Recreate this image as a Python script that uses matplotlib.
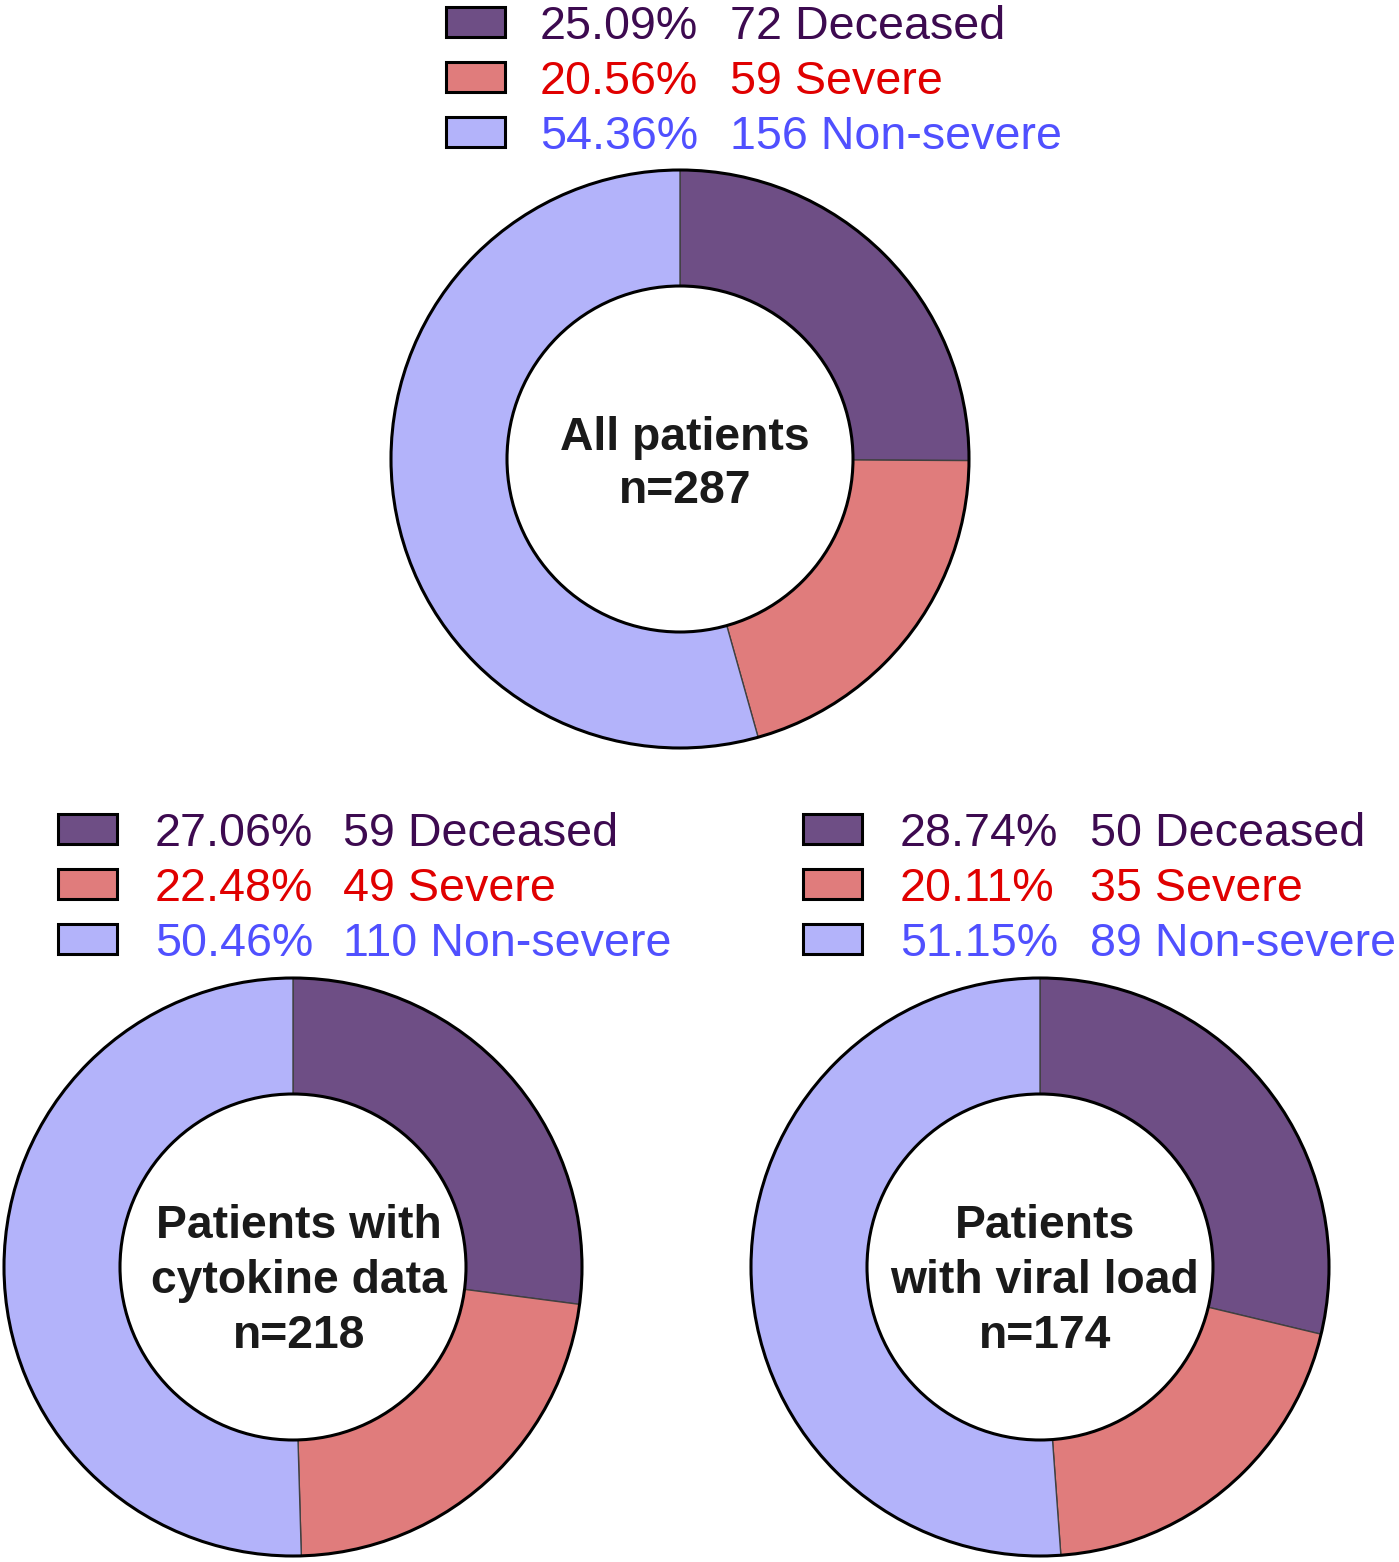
import matplotlib
matplotlib.use("Agg")
import matplotlib.pyplot as plt
from matplotlib.patches import Circle, Rectangle

plt.rcParams['font.family'] = ['Liberation Sans', 'DejaVu Sans']

categories = ["Deceased", "Severe", "Non-severe"]
all_counts = [72, 59, 156]
all_pcts = ["25.09%", "20.56%", "54.36%"]
cyto_counts = [59, 49, 110]
cyto_pcts = ["27.06%", "22.48%", "50.46%"]
viral_counts = [50, 35, 89]
viral_pcts = ["28.74%", "20.11%", "51.15%"]
titles = [["All patients", "n=287"],
          ["Patients with", "cytokine data", "n=218"],
          ["Patients", "with viral load", "n=174"]]

wedge_colors = ["#6E4E85", "#E07C7C", "#B3B3FA"]
text_colors = ["#3D0A50", "#E00000", "#5050FF"]

W, H = 1399, 1562
fig = plt.figure(figsize=(W / 100, H / 100), dpi=100)
ax = fig.add_axes([0, 0, 1, 1])

R, r = 289, 173
FS_LEG = 33.6
FS_TTL = 33.3

def Y(ypx):
    return H - ypx

panels = [
    dict(counts=all_counts, pcts=all_pcts, title=titles[0], center=(680, 459), tx=685,
         box_x=446, pct_x=540, cnt_x=730, rows=[22, 77, 132], t_base=[450, 503]),
    dict(counts=cyto_counts, pcts=cyto_pcts, title=titles[1], center=(293, 1267), tx=299,
         box_x=58, pct_x=155, cnt_x=343, rows=[829, 884, 939], t_base=[1238, 1293, 1348]),
    dict(counts=viral_counts, pcts=viral_pcts, title=titles[2], center=(1040, 1267), tx=1045,
         box_x=803, pct_x=900, cnt_x=1090, rows=[829, 884, 939], t_base=[1238, 1293, 1348]),
]

for p in panels:
    cx, cy = p["center"][0], Y(p["center"][1])
    ax.pie(p["counts"], radius=R, center=(cx, cy), startangle=90, counterclock=False,
           colors=wedge_colors,
           wedgeprops=dict(width=R - r, edgecolor="#404040", linewidth=1.0))
    ax.add_patch(Circle((cx, cy), R, fill=False, ec="black", lw=2.2, zorder=5))
    ax.add_patch(Circle((cx, cy), r, fill=False, ec="black", lw=2.2, zorder=5))
    for line, yb in zip(p["title"], p["t_base"]):
        ax.text(p["tx"], Y(yb), line, ha="center", va="baseline", fontsize=FS_TTL,
                fontweight="bold", color="#1a1a1a")
    for i, (cnt, pct, cat) in enumerate(zip(p["counts"], p["pcts"], categories)):
        yc = p["rows"][i]
        ax.add_patch(Rectangle((p["box_x"], Y(yc + 15)), 59, 30, facecolor=wedge_colors[i],
                               edgecolor="black", lw=2.2, zorder=5))
        ax.text(p["pct_x"], Y(yc + 17), pct, ha="left", va="baseline", fontsize=FS_LEG,
                color=text_colors[i])
        ax.text(p["cnt_x"], Y(yc + 17), f"{cnt} {cat}", ha="left", va="baseline",
                fontsize=FS_LEG, color=text_colors[i])

ax.set_xlim(0, W)
ax.set_ylim(0, H)
ax.set_aspect("auto")
ax.axis("off")
fig.savefig("out.png", dpi=100)
